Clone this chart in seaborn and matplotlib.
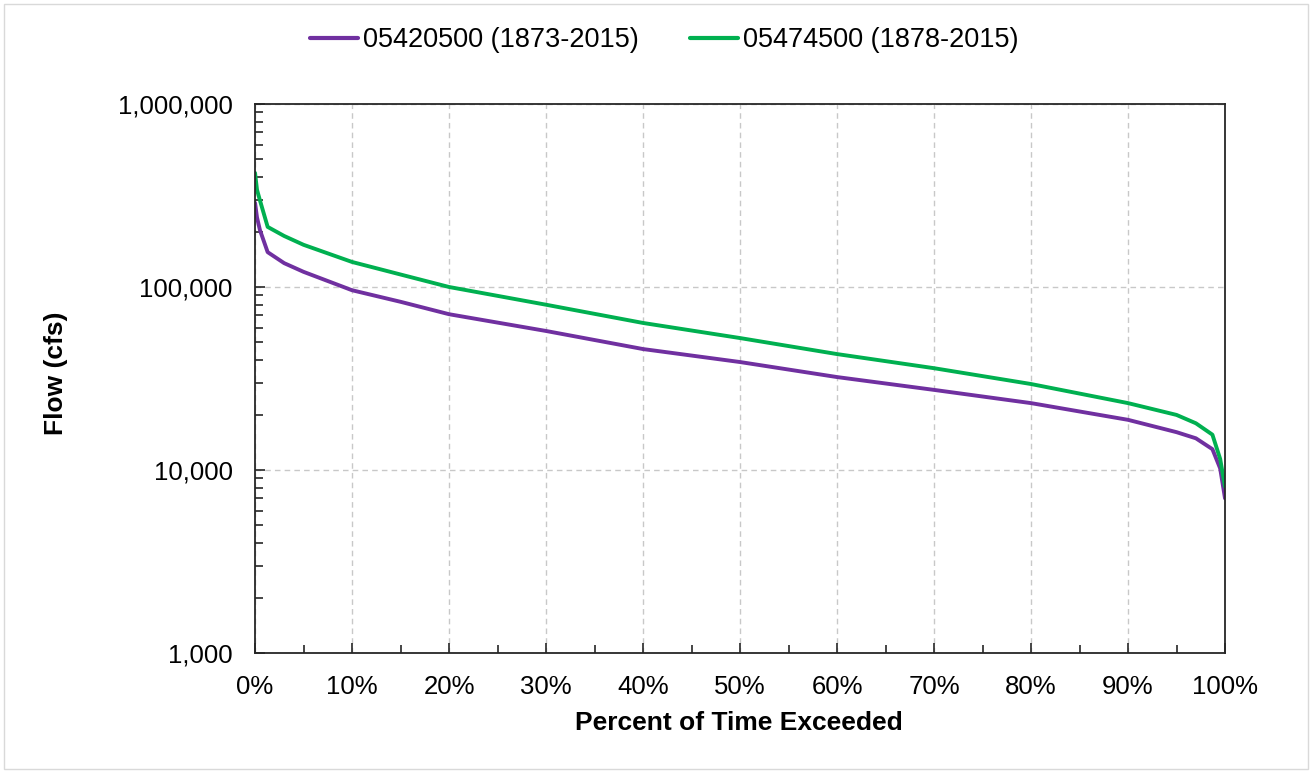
"""Flow duration curves for two gauges (log flow vs percent of time exceeded)."""

import matplotlib
matplotlib.use("Agg")
import matplotlib.pyplot as plt
from matplotlib import font_manager
from matplotlib.ticker import FuncFormatter, LogLocator, MultipleLocator, NullFormatter
from matplotlib.patches import Rectangle
import pandas as pd
import seaborn as sns

# percent of time exceeded
pct = [0, 0.2, 0.5, 1.3, 3, 5, 10, 15, 20, 30, 40, 50, 60, 70, 80, 90, 95, 97, 98.7, 99.5, 100]

flow_05420500 = [288000, 240000, 205000, 155000, 135000, 121000, 96000, 83000, 71000, 57500,
                 45800, 38900, 32200, 27400, 23200, 18800, 16100, 14900, 13000, 10200, 7000]
flow_05474500 = [420000, 340000, 298000, 213000, 190000, 170000, 137000, 117000, 100000, 80000,
                 63600, 52600, 43000, 36000, 29500, 23200, 20000, 18000, 15600, 11500, 8100]

series_names = ["05420500 (1873-2015)", "05474500 (1878-2015)"]
colors = ["#7030A0", "#00B050"]


def build_frame():
    rows = []
    for name, vals in zip(series_names, [flow_05420500, flow_05474500]):
        for p, v in zip(pct, vals):
            rows.append({"pct": p, "flow": v, "series": name})
    return pd.DataFrame(rows)


def main():
    df = build_frame()

    sns.set_theme(style="white")
    plt.rcParams["font.family"] = ["Liberation Sans", "DejaVu Sans"]
    plt.rcParams["text.color"] = "black"
    plt.rcParams["axes.labelcolor"] = "black"

    fig = plt.figure(figsize=(13.12, 7.73), dpi=100)
    ax = fig.add_axes([0.1944, 0.1552, 0.7393, 0.7103])

    sns.lineplot(data=df, x="pct", y="flow", hue="series", palette=colors,
                 hue_order=series_names, linewidth=2.8, ax=ax, legend=False)

    ax.set_yscale("log")
    ax.set_xlim(0, 100)
    ax.set_ylim(1000, 1000000)

    ax.xaxis.set_major_locator(MultipleLocator(10))
    ax.xaxis.set_minor_locator(MultipleLocator(5))
    ax.xaxis.set_major_formatter(FuncFormatter(lambda v, _: f"{v:.0f}%"))
    ax.yaxis.set_major_locator(LogLocator(base=10, numticks=10))
    ax.yaxis.set_minor_locator(LogLocator(base=10, subs=range(2, 10), numticks=10))
    ax.yaxis.set_major_formatter(FuncFormatter(lambda v, _: f"{v:,.0f}"))
    ax.yaxis.set_minor_formatter(NullFormatter())

    ax.tick_params(axis="both", which="both", direction="in", color="#262626",
                   labelsize=18.5, labelcolor="black", width=1.2,
                   bottom=True, left=True, top=False, right=False)
    ax.tick_params(axis="both", which="major", length=7, pad=16)
    ax.tick_params(axis="both", which="minor", length=6)

    ax.grid(True, which="major", color="#c8c8c8", linestyle=(0, (4, 3)), linewidth=1.0)
    for s in ax.spines.values():
        s.set_visible(True)
        s.set_color("#262626")
        s.set_linewidth(1.3)

    ax.set_xlabel("Percent of Time Exceeded", fontsize=19, fontweight="bold")
    ax.set_ylabel("Flow (cfs)", fontsize=19, fontweight="bold")
    ax.xaxis.set_label_coords(0.499, -0.105)
    ax.yaxis.set_label_coords(-0.193, 0.51)

    # legend font looks condensed in the original
    names = {f.name for f in font_manager.fontManager.ttflist}
    leg_family = "Liberation Sans Narrow" if "Liberation Sans Narrow" in names else "Liberation Sans"
    leg_size = 22 if leg_family == "Liberation Sans Narrow" else 19.5

    handles = [plt.Line2D([], [], color=c, linewidth=3.0) for c in colors]
    fig.legend(handles, series_names, loc="center", bbox_to_anchor=(0.506, 0.948),
               ncol=2, frameon=False, prop={"family": leg_family, "size": leg_size},
               handlelength=1.8, handletextpad=0.15, columnspacing=1.9)

    fig.patches.append(Rectangle((0.003, 0.005), 0.994, 0.99, transform=fig.transFigure,
                                 fill=False, edgecolor="#d9d9d9", linewidth=1.0))

    fig.savefig("out.png", dpi=100)


if __name__ == "__main__":
    main()
